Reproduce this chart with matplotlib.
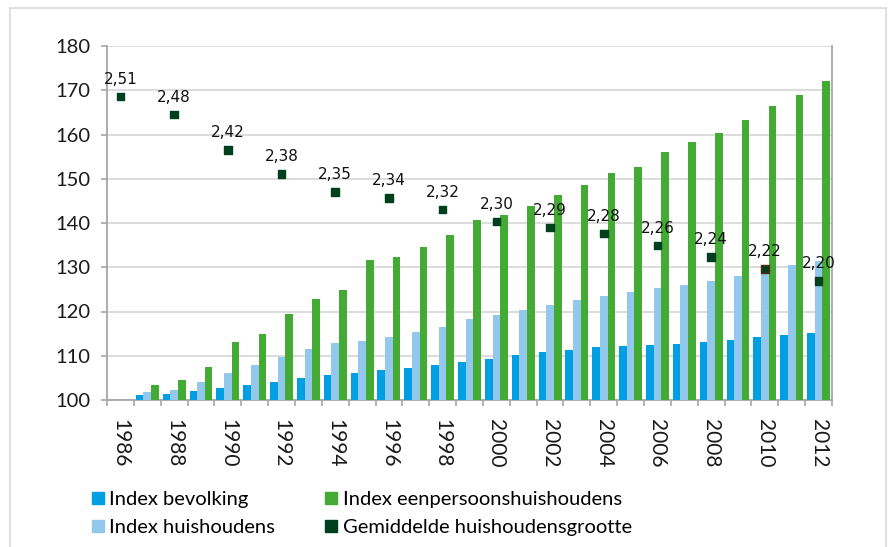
import matplotlib
matplotlib.use("Agg")
import matplotlib.pyplot as plt
from matplotlib.lines import Line2D
import numpy as np

years = list(range(1986, 2013))
bevolking = [100, 101.1, 101.3, 102.0, 102.6, 103.4, 104.1, 105.0, 105.6, 106.2, 106.7, 107.2, 107.8,
             108.5, 109.2, 110.1, 110.8, 111.4, 112.0, 112.3, 112.4, 112.7, 113.0, 113.5, 114.2, 114.7, 115.2]
huishoudens = [100, 101.8, 102.3, 104.0, 106.1, 108.0, 109.8, 111.5, 112.9, 113.3, 114.2, 115.3, 116.6,
               118.2, 119.1, 120.3, 121.5, 122.6, 123.5, 124.3, 125.2, 125.9, 126.9, 128.0, 129.2, 130.4, 131.3]
eenpersoons = [100, 103.4, 104.6, 107.4, 113.1, 115.0, 119.4, 122.8, 124.9, 131.6, 132.4, 134.6, 137.3,
               140.6, 141.7, 143.8, 146.3, 148.7, 151.2, 152.7, 156.0, 158.2, 160.3, 163.3, 166.5, 168.9, 172.2]
hh_years = list(range(1986, 2013, 2))
hh_grootte = [2.51, 2.48, 2.42, 2.38, 2.35, 2.34, 2.32, 2.30, 2.29, 2.28, 2.26, 2.24, 2.22, 2.20]

labels = ["Index bevolking", "Index huishoudens", "Index eenpersoonshuishoudens",
          "Gemiddelde huishoudensgrootte"]
c_blue = "#009ee2"
c_light = "#91c8eb"
c_green = "#43aa34"
c_dark = "#00401f"

plt.rcParams['font.family'] = ['Lato', 'DejaVu Sans']

fig = plt.figure(figsize=(8.9, 5.47), dpi=100)
ax = fig.add_axes([107/890, 1-400/547, (832-107)/890, (400-46)/547])

x = np.arange(len(years))
w = 0.285
ax.bar(x - w, np.array(bevolking) - 100, w, bottom=100, color=c_blue, zorder=3)
ax.bar(x, np.array(huishoudens) - 100, w, bottom=100, color=c_light, zorder=3)
ax.bar(x + w, np.array(eenpersoons) - 100, w, bottom=100, color=c_green, zorder=3)

ax.set_xlim(-0.5, len(years) - 0.5)
ax.set_ylim(100, 180)
ax.set_yticks(range(100, 181, 10))
ax.yaxis.grid(True, color="#d9d9d9", linewidth=1.3, zorder=0)
ax.set_axisbelow(True)

major = [i for i, y in enumerate(years) if y % 2 == 0]
ax.set_xticks(major)
ax.set_xticklabels([str(years[i]) for i in major], rotation=270, fontsize=15, color="#1a1a1a")
ax.set_xticks(np.arange(-0.5, len(years), 1.0), minor=True)
ax.tick_params(axis='x', which='major', length=0, pad=14)
ax.tick_params(axis='x', which='minor', length=4, width=1.2, color="#a6a6a6")
ax.tick_params(axis='y', length=4, width=1.2, color="#a6a6a6", labelsize=14.5, labelcolor="#1a1a1a", pad=8)

for s in ['left', 'bottom', 'right']:
    ax.spines[s].set_color("#a6a6a6")
    ax.spines[s].set_linewidth(1.3)
ax.spines['top'].set_visible(False)

ax2 = ax.twinx()
ax2.set_ylim(2.0, 2.595)
ax2.axis('off')
hx = [years.index(y) for y in hh_years]
edges = ["#5a2a10" if y == 2010 else c_dark for y in hh_years]
ax2.scatter(hx, hh_grootte, marker='s', s=30, c=c_dark, edgecolors=edges, linewidths=1.0, zorder=5)
for xi, v in zip(hx, hh_grootte):
    ax2.annotate(f"{v:.2f}".replace('.', ','), (xi, v), xytext=(0, 7), textcoords='offset points',
                 ha='center', va='bottom', fontsize=11, family='DejaVu Sans', color="#111111")

handles = [Line2D([], [], linestyle='none', marker='s', markersize=8, color=c)
           for c in [c_blue, c_light, c_green, c_dark]]
fig.legend(handles, labels, ncol=2, loc='upper left', bbox_to_anchor=(80/890, 1-481/547),
           frameon=False, fontsize=14.5, handlelength=0.8, handletextpad=0.15,
           columnspacing=2.4, labelspacing=0.55, borderpad=0)

# outer frame
fig.add_artist(Line2D([10/890, 10/890], [0, 1-8/547], color="#d9d9d9", linewidth=1.2))
fig.add_artist(Line2D([10/890, 886/890], [1-8/547, 1-8/547], color="#d9d9d9", linewidth=1.2))
fig.add_artist(Line2D([886/890, 886/890], [0, 1-8/547], color="#d9d9d9", linewidth=1.2))

fig.savefig("out.png", dpi=100)
